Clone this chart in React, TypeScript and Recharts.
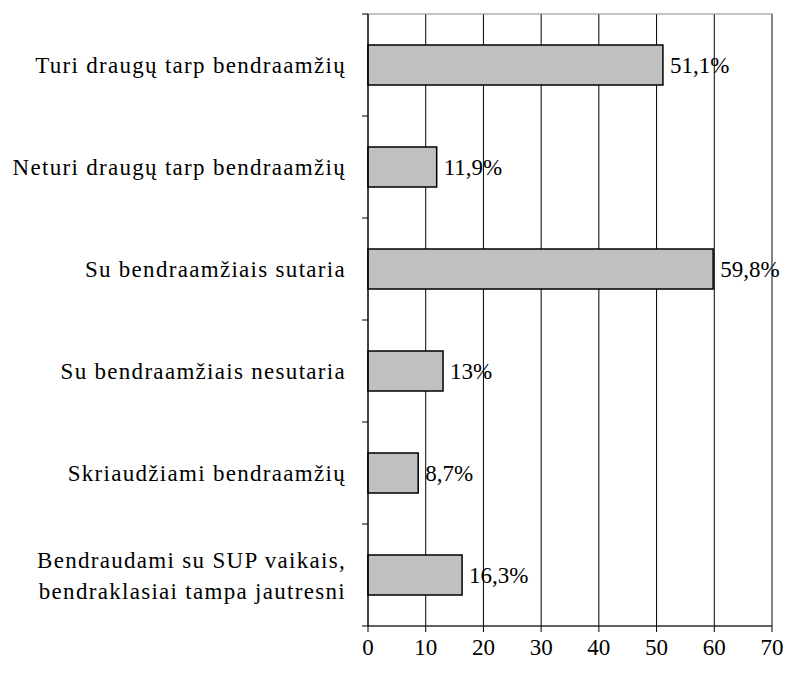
import { BarChart, Bar, XAxis, YAxis, CartesianGrid, LabelList, ReferenceArea } from "recharts";

const categories = [
  "Turi draugų tarp bendraamžių",
  "Neturi draugų tarp bendraamžių",
  "Su bendraamžiais sutaria",
  "Su bendraamžiais nesutaria",
  "Skriaudžiami bendraamžių",
  "Bendraudami su SUP vaikais,\nbendraklasiai tampa jautresni",
];
const values = [51.1, 11.9, 59.8, 13, 8.7, 16.3];
const xTicks = [0, 10, 20, 30, 40, 50, 60, 70];

const data = categories.map((name, i) => ({ name, value: values[i] }));

const W = 787;
const H = 675;
const TOP = 14;
const AXIS_H = 49;
const band = (H - TOP - AXIS_H) / categories.length;
const font = "Liberation Serif";
const textStyle = { fontFamily: font, fontSize: 23, fill: "#000" };
const LINE = 1.35;

function CategoryTick(props: any) {
  const { x, y, payload, index } = props;
  const lines = String(payload.value).split("\n");
  const axisX = x + 22;
  const last = index === categories.length - 1;
  return (
    <g>
      <line x1={axisX - 6} x2={axisX} y1={y - band / 2} y2={y - band / 2} stroke="#000" />
      {last && <line x1={axisX - 6} x2={axisX} y1={y + band / 2} y2={y + band / 2} stroke="#000" />}
      <text x={x} y={y} textAnchor="end" style={{ ...textStyle, letterSpacing: 1.3 }}>
        {lines.map((l, i) => (
          <tspan key={i} x={x} dy={i === 0 ? `${0.35 - ((lines.length - 1) * LINE) / 2}em` : `${LINE}em`}>
            {l}
          </tspan>
        ))}
      </text>
    </g>
  );
}

const fmt = (v: any) => `${String(v).replace(".", ",")}%`;

export default function App() {
  return (
    <div style={{ position: "absolute", left: 0, top: 0, background: "#fff" }}>
      <BarChart
        width={W}
        height={H}
        data={data}
        layout="vertical"
        margin={{ top: TOP, right: 15, bottom: 0, left: 0 }}
        barSize={40}
      >
        <CartesianGrid horizontal={false} stroke="#000" strokeWidth={1} />
        <ReferenceArea x1={0} x2={70} fill="none" stroke="#888" strokeWidth={1.2} ifOverflow="visible" />
        <XAxis
          type="number"
          domain={[0, 70]}
          ticks={xTicks}
          interval={0}
          height={AXIS_H}
          tickSize={6}
          tickMargin={7}
          stroke="#000"
          tick={textStyle}
        />
        <YAxis
          type="category"
          dataKey="name"
          width={368}
          tickLine={false}
          tickSize={6}
          tickMargin={16}
          stroke="#000"
          interval={0}
          tick={<CategoryTick />}
        />
        <Bar dataKey="value" fill="#c0c0c0" stroke="#000" strokeWidth={1.5} isAnimationActive={false}>
          <LabelList dataKey="value" position="right" offset={7} formatter={fmt} style={textStyle} />
        </Bar>
      </BarChart>
    </div>
  );
}
